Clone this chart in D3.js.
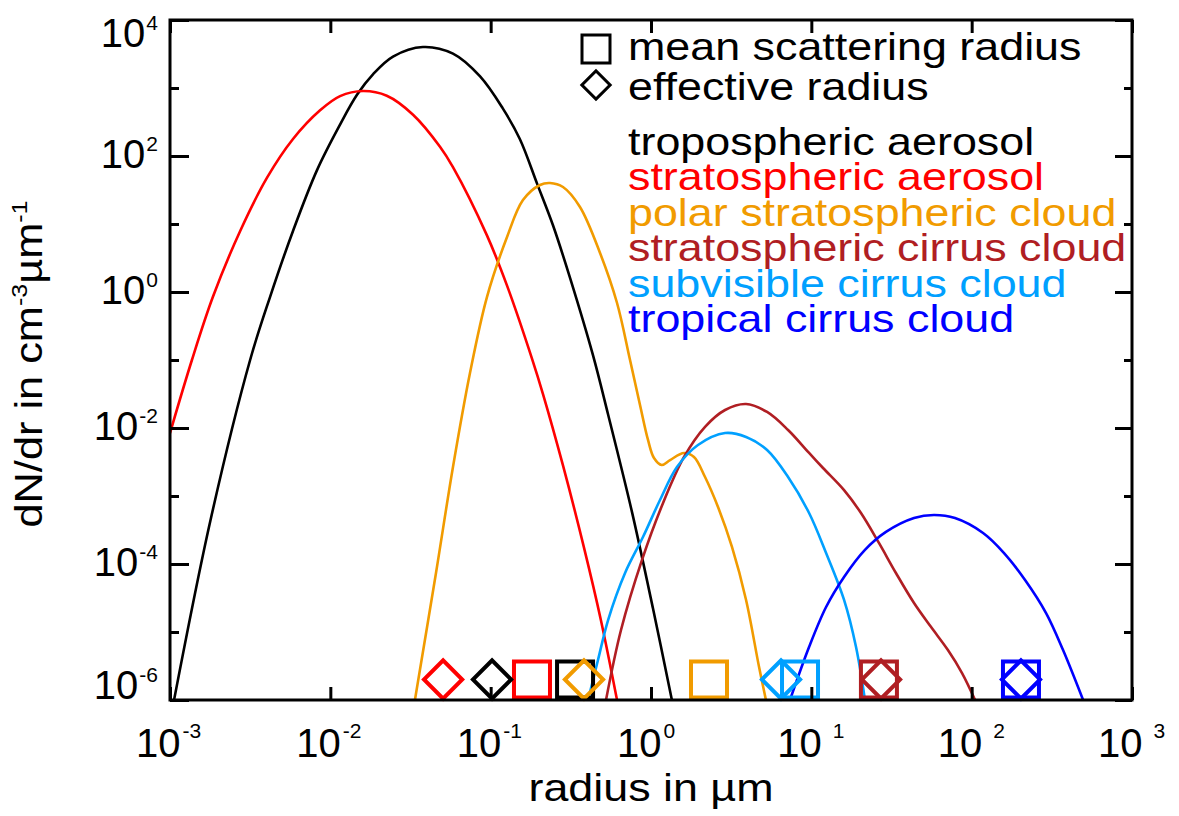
<!DOCTYPE html>
<html><head><meta charset="utf-8">
<script src="https://cdn.jsdelivr.net/npm/d3@7"></script>
<style>
body{margin:0;background:#fff}
svg{display:block}
text{font-family:"Liberation Sans",Arial,Helvetica,sans-serif;fill:#000}
</style>
</head><body>
<svg id="chart" width="1179" height="816"></svg>
<script>
// ---------- data ----------
const seriesNames = ["tropospheric aerosol","stratospheric aerosol","polar stratospheric cloud",
  "stratospheric cirrus cloud","subvisible cirrus cloud","tropical cirrus cloud"];
const seriesColors = ["#000000","#ff0000","#f19b00","#b01e23","#00a0ff","#0000ff"];

// radius in µm / dN/dr in cm^-3 µm^-1
const tropR = [0.00106,0.00179,0.00316,0.00421,0.00585,0.00826,0.0115,0.0147,0.0185,0.0246,0.0378,0.0582,0.0859,0.119,0.152,0.195,0.245,0.313,0.435,0.540,0.762,1.03,1.35];
const tropN = [1e-6,4.44e-4,0.1,0.85,7.9,62,290,800,1600,2900,4009,3200,1479,501,178,38.9,9.5,1.6,0.117,0.0158,5.75e-4,2.19e-5,1e-6];

const stratR = [0.001,0.00137,0.00185,0.00274,0.00403,0.00585,0.00863,0.0115,0.0160,0.0225,0.0328,0.0483,0.0582,0.0948,0.1265,0.181,0.212,0.2825,0.382,0.4875,0.614];
const stratN = [8.43e-3,0.1,0.843,7.9,48,178,470,760,904,770,405,137,68.7,6.8,1.24,0.105,3.16e-2,2.82e-3,1.74e-4,1.48e-5,1e-6];

const pscR = [0.0337,0.0456,0.0582,0.0743,0.0948,0.1265,0.159,0.203,0.2344,0.2825,0.3606,0.481,0.614,0.740,0.854,0.958,1.044,1.166,1.315,1.607,1.854,2.173,2.618,3.199,3.917,4.721,5.21];
const pscN = [1e-6,7.38e-5,2.67e-3,6.44e-2,0.843,6.44,22.5,37.5,40.1,35.0,17.8,3.75,0.689,0.1,2.18e-2,6.67e-3,3.62e-3,2.86e-3,3.38e-3,4.29e-3,3.75e-3,1.90e-3,6.89e-4,1.78e-4,2.96e-5,3.05e-6,1e-6];

const scR = [0.524,0.650,0.879,1.189,1.607,2.173,2.897,3.917,5.297,7.161,9.683,11.83,16.0,20.4,26.4,33.7,43.7,55.7,71.1,87.1,105];
const scN = [1e-6,1.07e-5,1.15e-4,7.89e-4,3.75e-3,1.04e-2,1.84e-2,2.25e-2,1.72e-2,9.35e-3,4.29e-3,2.58e-3,1.22e-3,5.62e-4,2.04e-4,7.38e-5,2.67e-5,1.19e-5,5.43e-6,2.49e-6,1e-6];

const svcR = [0.405,0.467,0.540,0.689,0.891,1.138,1.452,1.963,2.897,3.917,5.297,7.161,9.683,12.36,16.0,19.0,21.6];
const svcN = [1e-6,3.87e-6,1.50e-5,7.38e-5,2.49e-4,8.73e-4,2.67e-3,5.62e-3,8.43e-3,7.38e-3,4.74e-3,1.90e-3,5.62e-4,1.45e-4,2.96e-5,6.01e-6,1e-6];

const tcR = [7.36,9.68,12.36,16.0,21.6,29.2,43.7,58.2,78.7,117.8,159.2,215.3,291.1,371.5,495.5];
const tcN = [1e-6,6.01e-6,2.33e-5,6.44e-5,1.61e-4,2.96e-4,4.74e-4,5.26e-4,4.74e-4,2.86e-4,1.45e-4,5.82e-5,1.90e-5,5.43e-6,1e-6];

const meanRadius = [0.336,0.181,2.30,26.4,8.50,203];   // squares
const effRadius  = [0.102,0.0505,0.382,27.2,6.47,203]; // diamonds
const markerLevel = 2e-6;

const xTickExp = [-3,-2,-1,0,1,2,3];
const yTickExp = [4,3,2,1,0,-1,-2,-3,-4,-5,-6];
const yLabelExp = [4,2,0,-2,-4,-6];

const legendSymbols = ["mean scattering radius","effective radius"];
const xTitle = "radius in µm";

// ---------- drawing ----------
const svg = d3.select("#chart");
const L = 170, R = 1132, T = 20, B = 700;
const x = d3.scaleLog().domain([1e-3,1e3]).range([L,R]);
const y = d3.scaleLog().domain([1e-6,1e4]).range([B,T]);

svg.append("defs").append("clipPath").attr("id","clip")
  .append("rect").attr("x",L).attr("y",T-2).attr("width",R-L).attr("height",B-T+2);

const series = [[tropR,tropN],[stratR,stratN],[pscR,pscN],[scR,scN],[svcR,svcN],[tcR,tcN]];
const line = d3.line().x(d=>x(d[0])).y(d=>y(d[1])).curve(d3.curveCatmullRom.alpha(0.5));
const gLines = svg.append("g").attr("clip-path","url(#clip)");
series.forEach((s,i)=>{
  const pts = s[0].map((r,j)=>[r,s[1][j]]);
  gLines.append("path").attr("d",line(pts)).attr("fill","none")
    .attr("stroke",seriesColors[i]).attr("stroke-width",2.6).attr("stroke-linejoin","round");
});

// markers
const sq = d3.symbol().type(d3.symbolSquare).size(36*36);
const dm = d3.symbol().type(d3.symbolSquare).size(27*27);
const gM = svg.append("g");
meanRadius.forEach((r,i)=>{
  gM.append("path").attr("d",sq()).attr("transform",`translate(${x(r)},${y(markerLevel)})`)
    .attr("fill","none").attr("stroke",seriesColors[i]).attr("stroke-width",4);
});
effRadius.forEach((r,i)=>{
  gM.append("path").attr("d",dm()).attr("transform",`translate(${x(r)},${y(markerLevel)}) rotate(45)`)
    .attr("fill","none").attr("stroke",seriesColors[i]).attr("stroke-width",4);
});

// axes ticks
function styleAxis(g){ g.select(".domain").remove(); g.selectAll("line").attr("stroke","#000").attr("stroke-width",3); g.selectAll("text").remove(); }
const xVals = xTickExp.map(e=>Math.pow(10,e));
svg.append("g").attr("transform",`translate(0,${B})`).call(d3.axisBottom(x).tickValues(xVals).tickSize(-13).tickFormat("")).call(styleAxis);
svg.append("g").attr("transform",`translate(0,${T})`).call(d3.axisTop(x).tickValues(xVals).tickSize(-13).tickFormat("")).call(styleAxis);
const yMajor = yTickExp.filter(e=>yLabelExp.includes(e)).map(e=>Math.pow(10,e));
const yMinor = yTickExp.filter(e=>!yLabelExp.includes(e)).map(e=>Math.pow(10,e));
svg.append("g").attr("transform",`translate(${L},0)`).call(d3.axisLeft(y).tickValues(yMajor).tickSize(-19).tickFormat("")).call(styleAxis);
svg.append("g").attr("transform",`translate(${L},0)`).call(d3.axisLeft(y).tickValues(yMinor).tickSize(-9).tickFormat("")).call(styleAxis);
svg.append("g").attr("transform",`translate(${R},0)`).call(d3.axisRight(y).tickValues(yMajor).tickSize(-17).tickFormat("")).call(styleAxis);
svg.append("g").attr("transform",`translate(${R},0)`).call(d3.axisRight(y).tickValues(yMinor).tickSize(-8).tickFormat("")).call(styleAxis);

svg.append("rect").attr("x",L).attr("y",T).attr("width",R-L).attr("height",B-T)
  .attr("fill","none").attr("stroke","#000").attr("stroke-width",3);

// x tick labels
xTickExp.forEach(e=>{
  const px = x(Math.pow(10,e));
  const t = svg.append("text").attr("x",px-34).attr("y",757).attr("font-size",40);
  t.append("tspan").text("10");
  t.append("tspan").attr("font-size",21).attr("dy",-19).attr("dx",e>0?11:2).text(String(e));
});
// y tick labels
yLabelExp.forEach((e,i)=>{
  const py = y(Math.pow(10,e));
  let base = py+12;
  if (i===0) base = py+27;
  if (i===yLabelExp.length-1) base = py-1;
  const t = svg.append("text").attr("x",158).attr("y",base).attr("font-size",40).attr("text-anchor","end");
  t.append("tspan").text("10");
  t.append("tspan").attr("font-size",21).attr("dy",-17).attr("dx",1).text(String(e));
});

// axis titles
svg.append("text").attr("transform","translate(651,801) scale(1.18,1)").attr("text-anchor","middle")
  .attr("font-size",38).text(xTitle);
const yt = svg.append("text").attr("transform","translate(42,364) rotate(-90) scale(1.14,1)")
  .attr("text-anchor","middle").attr("font-size",38);
yt.append("tspan").text("dN/dr in cm");
yt.append("tspan").attr("font-size",22).attr("dy",-15).text("-3");
yt.append("tspan").attr("dy",15).text("µm");
yt.append("tspan").attr("font-size",22).attr("dy",-15).text("-1");

// legend
const gl = svg.append("g");
const lsq = d3.symbol().type(d3.symbolSquare).size(28*28);
const ldm = d3.symbol().type(d3.symbolSquare).size(20*20);
gl.append("path").attr("d",lsq()).attr("transform","translate(596,49)").attr("fill","none").attr("stroke","#000").attr("stroke-width",3);
gl.append("path").attr("d",ldm()).attr("transform","translate(596,85) rotate(45)").attr("fill","none").attr("stroke","#000").attr("stroke-width",3);
const symBase = [60,100];
legendSymbols.forEach((s,i)=>{
  gl.append("text").attr("transform",`translate(628,${symBase[i]}) scale(1.18,1)`).attr("font-size",38).text(s);
});
seriesNames.forEach((s,i)=>{
  gl.append("text").attr("transform",`translate(628,${155+i*35.4}) scale(1.18,1)`).attr("font-size",38)
    .style("fill",seriesColors[i]).text(s);
});
</script>
</body></html>
